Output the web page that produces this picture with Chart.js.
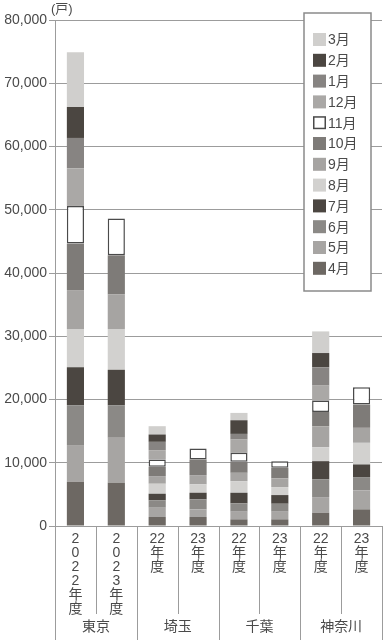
<!DOCTYPE html>
<html>
<head>
<meta charset="utf-8">
<script src="https://cdn.jsdelivr.net/npm/chart.js@4"></script>
<style>
  html, body { margin: 0; padding: 0; background: #fff; }
  #wrap { width: 386px; height: 640px; position: relative; }
</style>
</head>
<body>
<div id="wrap"><canvas id="chart"></canvas></div>
<script>
// categories (bars) and their group names
const barLabels = [
    ['2', '0', '2', '2', '年', '度'],
    ['2', '0', '2', '3', '年', '度'],
    ['22', '年', '度'], ['23', '年', '度'],
    ['22', '年', '度'], ['23', '年', '度'],
    ['22', '年', '度'], ['23', '年', '度']
];
const groups = ['東京', '埼玉', '千葉', '神奈川'];
const months = ['4月', '5月', '6月', '7月', '8月', '9月', '10月', '11月', '12月', '1月', '2月', '3月'];

// monthly values per bar (戸), April -> March
const tokyo2022 = [7000, 5800, 6300, 6000, 6050, 6150, 7350, 5950, 5950, 4800, 4900, 8650];
const tokyo2023 = [6850, 7100, 5150, 5600, 6450, 5500, 6150, 5800, null, null, null, null];
const saitama22 = [1420, 1470, 1160, 1050, 1580, 1210, 1470, 1160, 1470, 1315, 1160, 1315];
const saitama23 = [1420, 1210, 1580, 1050, 1315, 1470, 2470, 1735, null, null, null, null];
const chiba22 = [1050, 1210, 1315, 1680, 1840, 1315, 1735, 1420, 2100, 895, 2160, 1160];
const chiba23 = [1050, 1210, 1260, 1370, 1260, 1370, 1680, 1050, null, null, null, null];
const kanagawa22 = [2100, 2470, 2790, 2890, 2210, 3315, 2260, 1790, 2370, 2890, 2260, 3420];
const kanagawa23 = [2630, 3000, 2100, 2000, 3420, 2370, 3680, 2740, null, null, null, null];

const yTicks = [0, 10000, 20000, 30000, 40000, 50000, 60000, 70000, 80000];

const bars = [tokyo2022, tokyo2023, saitama22, saitama23, chiba22, chiba23, kanagawa22, kanagawa23];
const monthColors = ['#6d6863', '#a7a5a3', '#8b8986', '#4b4641', '#d2d1cf', '#a6a4a2',
                     '#7e7b78', '#ffffff', '#aaa8a6', '#878482', '#4b4641', '#d0cfcd'];

const FONT = '"Liberation Sans", "Noto Sans CJK JP", sans-serif';
const TEXT = '#4a4a4a';
const LINE = '#9c9c9c';

const datasets = months.map((m, i) => ({
    label: m,
    data: bars.map(b => b[i]),
    backgroundColor: monthColors[i],
    borderColor: m === '11月' ? '#4a4a4a' : monthColors[i],
    borderWidth: m === '11月' ? 1.5 : 0,
    borderSkipped: false,
    barPercentage: 0.42,
    categoryPercentage: 1
}));

// separator lines, group names, unit label and legend box
const extras = {
    id: 'extras',
    afterDraw(chart) {
        const { ctx, chartArea } = chart;
        const x = chart.scales.x;
        const n = barLabels.length;
        const w = (x.right - x.left) / n;
        ctx.save();
        ctx.strokeStyle = LINE;
        ctx.lineWidth = 1;
        for (let i = 0; i <= n; i++) {
            const px = Math.round(x.left + i * w) + 0.5;
            const top = i === 0 ? chartArea.top : chartArea.bottom;
            const bottom = i % 2 === 0 ? chart.height : 614;
            ctx.beginPath();
            ctx.moveTo(px, top);
            ctx.lineTo(px, bottom);
            ctx.stroke();
        }
        ctx.fillStyle = TEXT;
        ctx.font = '14px ' + FONT;
        ctx.textAlign = 'center';
        ctx.textBaseline = 'middle';
        groups.forEach((g, i) => {
            ctx.fillText(g, x.left + (2 * i + 1) * w, 627);
        });

        ctx.font = '13px ' + FONT;
        ctx.textAlign = 'left';
        ctx.fillText('(戸)', chartArea.left - 4, 9);

        // legend
        const lx = 304, ly = 13, lw = 67, lh = 278;
        ctx.fillStyle = '#fff';
        ctx.fillRect(lx, ly, lw, lh);
        ctx.strokeStyle = '#8a8a8a';
        ctx.lineWidth = 1.5;
        ctx.strokeRect(lx, ly, lw, lh);
        ctx.font = '14px ' + FONT;
        ctx.textBaseline = 'middle';
        const items = chart.data.datasets.slice().reverse();
        items.forEach((ds, i) => {
            const cy = 39.5 + i * 20.8;
            ctx.fillStyle = ds.backgroundColor;
            ctx.fillRect(313, cy - 6.5, 13, 13);
            if (ds.borderWidth > 0) {
                ctx.strokeStyle = ds.borderColor;
                ctx.lineWidth = 1.5;
                ctx.strokeRect(313.75, cy - 5.75, 11.5, 11.5);
            }
            ctx.fillStyle = TEXT;
            ctx.fillText(ds.label, 328, cy + 1);
        });
        ctx.restore();
    }
};

new Chart(document.getElementById('chart'), {
    type: 'bar',
    data: { labels: barLabels, datasets: datasets },
    options: {
        responsive: true,
        maintainAspectRatio: false,
        animation: false,
        layout: { padding: { top: 20, right: 4, left: 0, bottom: 0 } },
        plugins: {
            legend: { display: false },
            tooltip: { enabled: false }
        },
        scales: {
            x: {
                stacked: true,
                grid: { display: false },
                border: { display: false },
                ticks: {
                    color: TEXT,
                    font: { family: FONT, size: 14, lineHeight: 1.0 },
                    maxRotation: 0,
                    minRotation: 0,
                    autoSkip: false,
                    padding: -2
                },
                afterFit(scale) { scale.height = 114; }
            },
            y: {
                stacked: true,
                min: 0,
                max: 80000,
                afterBuildTicks(scale) { scale.ticks = yTicks.map(v => ({ value: v })); },
                grid: { color: LINE, tickLength: 6, drawTicks: true, tickColor: LINE },
                border: { display: true, color: LINE },
                ticks: {
                    color: TEXT,
                    font: { family: FONT, size: 14 },
                    padding: 2,
                    callback: v => v.toLocaleString('en-US')
                },
                afterFit(scale) { scale.width = 55; }
            }
        }
    },
    plugins: [extras]
});
</script>
</body>
</html>
